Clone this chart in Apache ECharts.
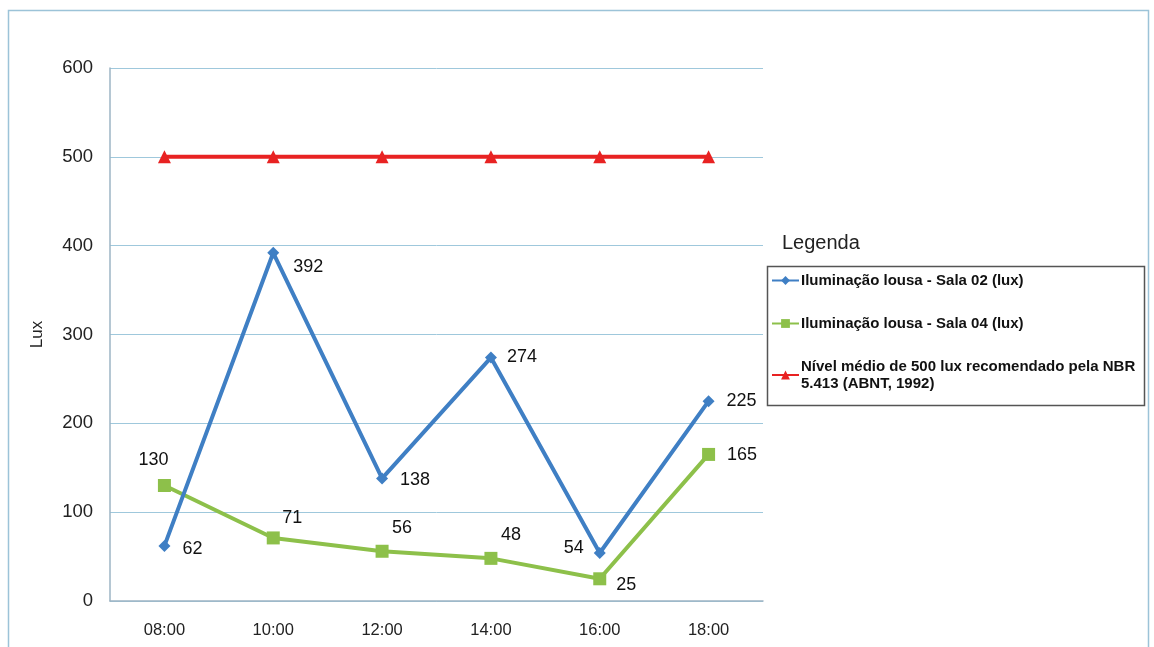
<!DOCTYPE html>
<html><head><meta charset="utf-8">
<script src="https://cdn.jsdelivr.net/npm/echarts@6/dist/echarts.min.js"></script>
<style>html,body{margin:0;padding:0;background:#fff}#c{width:1154px;height:647px}</style>
</head><body><div id="c"></div>
<script>
const categories = ['08:00','10:00','12:00','14:00','16:00','18:00'];
const sala02 = [62, 392, 138, 274, 54, 225];
const sala04 = [130, 71, 56, 48, 25, 165];
const nbr = [500, 500, 500, 500, 500, 500];
const seriesNames = ['Iluminação lousa - Sala 02 (lux)', 'Iluminação lousa - Sala 04 (lux)', 'Nível médio de 500 lux recomendado pela NBR 5.413 (ABNT, 1992)'];
const yTicks = {min: 0, max: 600, interval: 100};

// label layout (offsets in px), kept apart from data
const lbl02 = [['right',[4,3]],['right',[6,14]],['right',[4,2]],['right',[2,-1]],['left',[-2,-5]],['right',[4,0]]];
const lbl04 = [['top',[-11,-2]],['top',[19,4]],['top',[20,0]],['top',[20,0]],['right',[2,6]],['right',[4,1]]];

function withLabels(vals, lbl){
  return vals.map((v,i)=>({value:v,label:{position:lbl[i][0],offset:lbl[i][1]}}));
}
const lblStyle = {show:true,fontSize:18,color:'#111',fontFamily:'Liberation Sans',distance:8};

const chart = echarts.init(document.getElementById('c'));
chart.setOption({
  animation:false,
  textStyle:{fontFamily:'Liberation Sans'},
  grid:{left:110,right:391,top:68,bottom:46},
  graphic:[
    {type:'rect',shape:{x:8.5,y:10.5,width:1140,height:660},style:{fill:'none',stroke:'#9cc3d8',lineWidth:1.5},silent:true},
    {type:'rect',shape:{x:767.5,y:266.5,width:377,height:139},style:{fill:'none',stroke:'#555',lineWidth:1.5},silent:true},
    {type:'text',left:782,top:233,style:{text:'Legenda',fontSize:20,fill:'#222',fontFamily:'Liberation Sans'}}
  ],
  legend:{
    orient:'vertical',left:771,top:272,
    padding:0,itemGap:26,itemWidth:27,itemHeight:11,
    textStyle:{fontSize:15,color:'#111',fontWeight:'bold',fontFamily:'Liberation Sans Narrow, Liberation Sans',lineHeight:17,padding:[0,0,0,-3]},
    formatter:function(n){return n===seriesNames[2]?'Nível médio de 500 lux recomendado pela NBR\n5.413 (ABNT, 1992)':n;},
    data:seriesNames
  },
  xAxis:{type:'category',data:categories,boundaryGap:true,
    axisLine:{lineStyle:{color:'#9db4c4',width:1.5}},axisTick:{show:false},
    axisLabel:{fontSize:16.5,color:'#222',margin:21}},
  yAxis:{type:'value',min:yTicks.min,max:yTicks.max,interval:yTicks.interval,
    name:'Lux',nameLocation:'middle',nameGap:64,nameTextStyle:{fontSize:17,color:'#222'},
    axisLine:{show:true,lineStyle:{color:'#9db4c4',width:1.5}},axisTick:{show:false},
    axisLabel:{fontSize:18.5,color:'#222',margin:17}},
  series:[
    {name:seriesNames[0],type:'line',data:withLabels(sala02,lbl02),symbol:'diamond',symbolSize:12,
      lineStyle:{color:'#3f7fc4',width:4},itemStyle:{color:'#3f7fc4'},label:lblStyle,z:4},
    {name:seriesNames[1],type:'line',data:withLabels(sala04,lbl04),symbol:'rect',symbolSize:13,
      lineStyle:{color:'#8dc04a',width:4},itemStyle:{color:'#8dc04a'},label:lblStyle,z:3},
    {name:seriesNames[2],type:'line',data:nbr,symbol:'triangle',symbolSize:13,
      lineStyle:{color:'#e82222',width:4},itemStyle:{color:'#e82222'},z:2}
  ]
});
chart.setOption({yAxis:{splitLine:{lineStyle:{color:'#9fc8dc',width:1}}}});
</script></body></html>
